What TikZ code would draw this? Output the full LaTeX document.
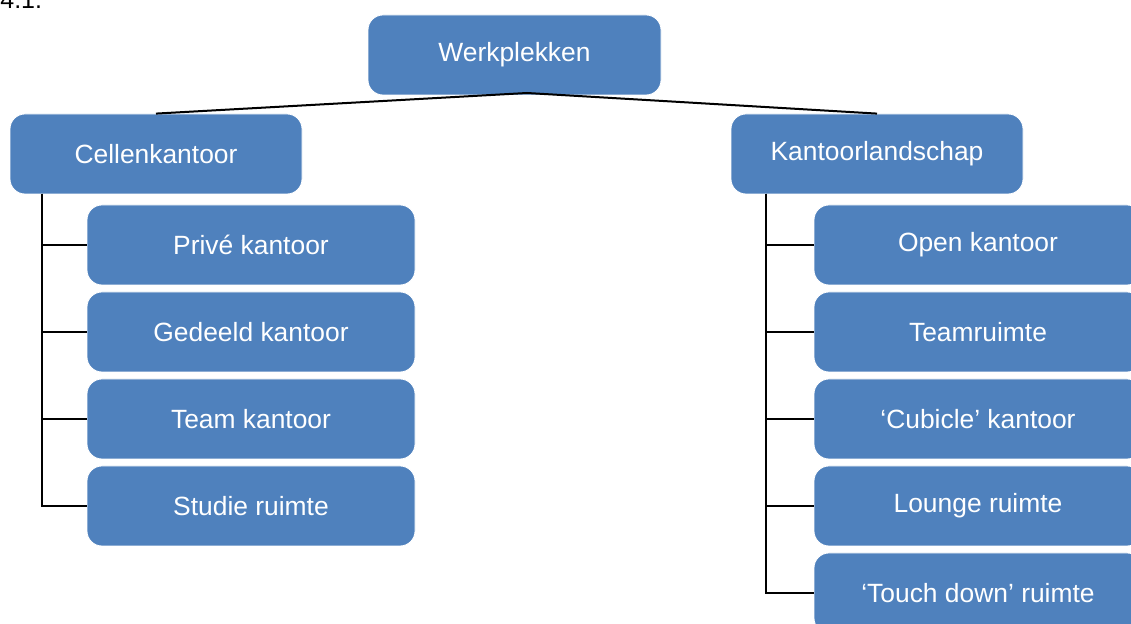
\documentclass[tikz,border=0pt]{standalone}
\usepackage{fontspec}
\setmainfont{Liberation Sans}
\definecolor{boxblue}{HTML}{4F81BD}

\begin{document}
\begin{tikzpicture}[x=0.5pt, y=-0.5pt, node distance=43.5pt]
                % Define styles
                \tikzstyle{box_root} = [font=\fontsize{13.2}{15}\selectfont, rectangle, draw=white, line width=0.4pt, fill=boxblue, text=white, rounded corners=7.5pt, minimum width=146.5pt, minimum height=40pt, inner sep=0pt]
                \tikzstyle{box_group} = [box_root, minimum width=146pt]
                \tikzstyle{box_type} = [box_root, minimum width=164pt]
                \tikzstyle{line} = [draw, line width=1pt]

                \useasboundingbox (0,0) rectangle (1131,624);
                \clip (0,0) rectangle (1131,624);

                % Heading
                \node [anchor=base west, inner sep=0pt, font=\fontsize{12.5}{15}\selectfont] (heading) at (0,9) {4.1.};

                % Nodes
                \node [box_root] (werkplekken) at (514.5,55) {Werkplekken};

                \node [box_group] (cellen) at (156,154) {Cellenkantoor};
                \node [box_group] (landschap) at (877,154) {Kantoorlandschap};

                \node [box_type] (prive) at (251,245) {Privé kantoor};
                \node [box_type, below of=prive] (gedeeld) {Gedeeld kantoor};
                \node [box_type, below of=gedeeld] (team) {Team kantoor};
                \node [box_type, below of=team] (studie) {Studie ruimte};

                \node [box_type] (open) at (978,245) {Open kantoor};
                \node [box_type, below of=open] (teamruimte) {Teamruimte};
                \node [box_type, below of=teamruimte] (cubicle) {‘Cubicle’ kantoor};
                \node [box_type, below of=cubicle] (lounge) {Lounge ruimte};
                \node [box_type, below of=lounge] (touchdown) {‘Touch down’ ruimte};

                \coordinate (hub) at (527,93);
                \coordinate (cellen_bus) at (42,194);
                \coordinate (landschap_bus) at (766,194);

                % Lines
                \path [line] (hub) -- (cellen.north);
                \path [line] (hub) -- (landschap.north);

                \path [line] (cellen_bus) |- (prive.west);
                \path [line] (cellen_bus) |- (gedeeld.west);
                \path [line] (cellen_bus) |- (team.west);
                \path [line] (cellen_bus) |- (studie.west);

                \path [line] (landschap_bus) |- (open.west);
                \path [line] (landschap_bus) |- (teamruimte.west);
                \path [line] (landschap_bus) |- (cubicle.west);
                \path [line] (landschap_bus) |- (lounge.west);
                \path [line] (landschap_bus) |- (touchdown.west);
\end{tikzpicture}
\end{document}
